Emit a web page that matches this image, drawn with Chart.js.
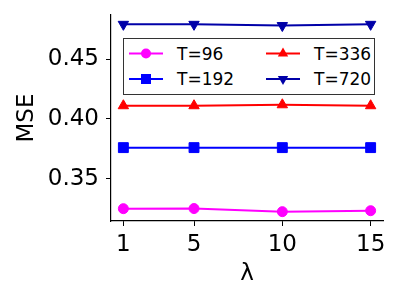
<!DOCTYPE html>
<html>
<head>
<meta charset="utf-8">
<script src="https://cdn.jsdelivr.net/npm/chart.js@4/dist/chart.umd.min.js"></script>
<style>
  html, body { margin: 0; padding: 0; background: #fff; }
  #wrap { position: relative; width: 400px; height: 300px; }
  #legend { position: absolute; left: 123px; top: 38px; width: 252px; height: 57px; }
</style>
</head>
<body>
<div id="wrap">
  <canvas id="c" width="400" height="300"></canvas>
  <svg id="legend" width="252" height="57" xmlns="http://www.w3.org/2000/svg"></svg>
</div>
<script>
const lambdas = [1, 5, 10, 15];
const xTicks = [1, 5, 10, 15];
const yTicks = [0.35, 0.40, 0.45];
const seriesNames = ['T=96', 'T=192', 'T=336', 'T=720'];
const mse96  = [0.3250, 0.3251, 0.3225, 0.3233];
const mse192 = [0.3760, 0.3760, 0.3760, 0.3760];
const mse336 = [0.4110, 0.4110, 0.4118, 0.4110];
const mse720 = [0.4790, 0.4790, 0.4780, 0.4790];
const seriesColors = ['#ff00ff', '#0000ff', '#ff0000', '#0000a8'];
const seriesStyles = ['circle', 'rect', 'triangle', 'triangle'];
const seriesRot = [0, 0, 0, 180];
const seriesRadius = [5, 7, 6, 6];
const seriesValues = [mse96, mse192, mse336, mse720];

const FONT = "'DejaVu Sans', sans-serif";

const datasets = seriesValues.map((vals, i) => ({
  label: seriesNames[i],
  data: lambdas.map((x, j) => ({ x: x, y: vals[j] })),
  borderColor: seriesColors[i],
  backgroundColor: seriesColors[i],
  borderWidth: 2,
  pointStyle: seriesStyles[i],
  rotation: seriesRot[i],
  pointRadius: seriesRadius[i],
  pointBorderWidth: 1,
  pointHoverRadius: seriesRadius[i],
  tension: 0,
  clip: false
}));

new Chart(document.getElementById('c'), {
  type: 'line',
  data: { datasets },
  options: {
    responsive: false,
    animation: false,
    events: [],
    layout: { padding: { top: 15, right: 17, left: 0, bottom: 0 } },
    plugins: { legend: { display: false }, tooltip: { enabled: false } },
    scales: {
      x: {
        type: 'linear',
        min: 0.3, max: 15.7,
        afterBuildTicks: s => { s.ticks = xTicks.map(v => ({ value: v })); },
        afterFit: s => { s.height = 79; s.paddingLeft = 0; s.paddingRight = 0; },
        ticks: {
          color: '#000',
          font: { family: FONT, size: 23 },
          padding: 5,
          maxRotation: 0,
          autoSkip: false,
          callback: v => String(v)
        },
        grid: { display: true, drawOnChartArea: false, drawTicks: true, tickLength: 5, color: '#000', lineWidth: 1 },
        border: { display: true, color: '#000', width: 1.2 },
        title: { display: true, text: 'λ', color: '#000', font: { family: FONT, size: 23 }, padding: { top: 0, bottom: 12 } }
      },
      y: {
        type: 'linear',
        min: 0.3147, max: 0.4868,
        afterBuildTicks: s => { s.ticks = yTicks.map(v => ({ value: v })); },
        afterFit: s => { s.width = 111; s.paddingTop = 0; s.paddingBottom = 0; },
        ticks: {
          color: '#000',
          font: { family: FONT, size: 23 },
          padding: 7,
          autoSkip: false,
          callback: v => Number(v).toFixed(2)
        },
        grid: { display: true, drawOnChartArea: false, drawTicks: true, tickLength: 5, color: '#000', lineWidth: 1 },
        border: { display: true, color: '#000', width: 1.2 },
        title: { display: true, text: 'MSE', color: '#000', font: { family: FONT, size: 23 }, padding: { top: 13, bottom: 0 } }
      }
    }
  }
});

// Legend (inside the plot area, two columns)
const svgNS = 'http://www.w3.org/2000/svg';
const svg = document.getElementById('legend');
function el(tag, attrs, text) {
  const e = document.createElementNS(svgNS, tag);
  for (const k in attrs) e.setAttribute(k, attrs[k]);
  if (text !== undefined) e.textContent = text;
  svg.appendChild(e);
  return e;
}
el('rect', { x: 0.5, y: 0.5, width: 251, height: 56, fill: '#fff', stroke: '#333', 'stroke-width': 1 });
const legendPos = [
  { lx: 6, row: 0 }, { lx: 6, row: 1 }, { lx: 143, row: 0 }, { lx: 143, row: 1 }
];
const rowY = [15.5, 41];
seriesNames.forEach((name, i) => {
  const p = legendPos[i];
  const cy = rowY[p.row];
  const x0 = p.lx, x1 = p.lx + 34, cx = (x0 + x1) / 2;
  const c = seriesColors[i];
  el('line', { x1: x0, y1: cy, x2: x1, y2: cy, stroke: c, 'stroke-width': 2 });
  if (seriesStyles[i] === 'circle') {
    el('circle', { cx: cx, cy: cy, r: 5, fill: c });
  } else if (seriesStyles[i] === 'rect') {
    el('rect', { x: cx - 5, y: cy - 5, width: 10, height: 10, fill: c });
  } else if (seriesRot[i] === 0) {
    el('polygon', { points: `${cx},${cy - 6} ${cx - 5.2},${cy + 3} ${cx + 5.2},${cy + 3}`, fill: c });
  } else {
    el('polygon', { points: `${cx},${cy + 6} ${cx - 5.2},${cy - 3} ${cx + 5.2},${cy - 3}`, fill: c });
  }
  el('text', { x: x1 + 14, y: cy + 6, 'font-family': 'DejaVu Sans', 'font-size': 17, fill: '#000' }, name);
});
</script>
</body>
</html>
